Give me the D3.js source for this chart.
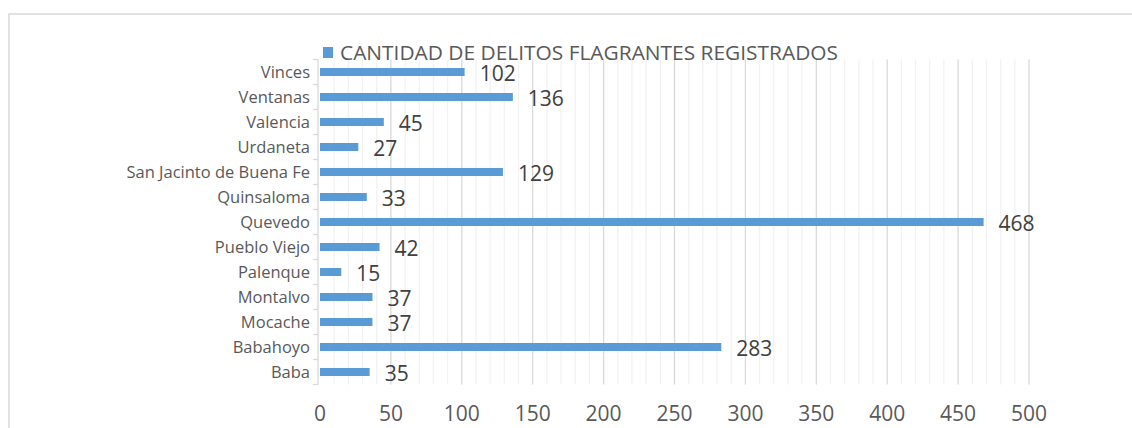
<!DOCTYPE html>
<html>
<head>
<meta charset="utf-8">
<script src="https://cdn.jsdelivr.net/npm/d3@7"></script>
<style>
  body { margin: 0; background: #fff; }
  text { font-family: "Open Sans", "Liberation Sans", sans-serif; }
</style>
</head>
<body>
<div id="chart"></div>
<script>
var categories = ["Vinces", "Ventanas", "Valencia", "Urdaneta", "San Jacinto de Buena Fe",
    "Quinsaloma", "Quevedo", "Pueblo Viejo", "Palenque", "Montalvo", "Mocache", "Babahoyo", "Baba"];
var values = [102, 136, 45, 27, 129, 33, 468, 42, 15, 37, 37, 283, 35];
var xTicks = [0, 50, 100, 150, 200, 250, 300, 350, 400, 450, 500];
var legendLabel = "CANTIDAD DE DELITOS FLAGRANTES REGISTRADOS";

var width = 1132, height = 428;

var svg = d3.select("#chart")
    .append("svg")
    .attr("width", width)
    .attr("height", height);

// outer chart frame (goes past the right and bottom edge)
svg.append("rect")
    .attr("x", 9).attr("y", 14)
    .attr("width", 1200).attr("height", 500)
    .attr("fill", "none")
    .attr("stroke", "#d9d9d9")
    .attr("stroke-width", 1.5);

var x = d3.scaleLinear().domain([0, 500]).range([320, 1029]);
var y = d3.scaleBand().domain(categories).range([59.5, 384.5]).paddingInner(0.68).paddingOuter(0.34);

// minor gridlines
svg.append("g")
    .selectAll("line")
    .data(d3.range(10, 500, 10).filter(function (d) { return d % 50 != 0; }))
    .enter().append("line")
    .attr("x1", function (d) { return x(d); })
    .attr("x2", function (d) { return x(d); })
    .attr("y1", 59.5).attr("y2", 384.5)
    .attr("stroke", "#f2f2f2")
    .attr("stroke-width", 1.3);

// major gridlines
svg.append("g")
    .selectAll("line")
    .data(xTicks.slice(1))
    .enter().append("line")
    .attr("x1", function (d) { return x(d); })
    .attr("x2", function (d) { return x(d); })
    .attr("y1", 59.5).attr("y2", 384.5)
    .attr("stroke", "#d9d9d9")
    .attr("stroke-width", 1.3);

// category axis
var yAxis = svg.append("g")
    .attr("transform", "translate(318,0)");
yAxis.append("line")
    .attr("x1", 0).attr("x2", 0)
    .attr("y1", 59.5).attr("y2", 384.5)
    .attr("stroke", "#d9d9d9").attr("stroke-width", 1.3);
yAxis.selectAll(".tk")
    .data(d3.range(0, categories.length + 1))
    .enter().append("line")
    .attr("class", "tk")
    .attr("x1", -5).attr("x2", 0)
    .attr("y1", function (i) { return 59.5 + i * y.step(); })
    .attr("y2", function (i) { return 59.5 + i * y.step(); })
    .attr("stroke", "#d9d9d9").attr("stroke-width", 1.3);
yAxis.selectAll(".lbl")
    .data(categories)
    .enter().append("text")
    .attr("class", "lbl")
    .attr("x", -8)
    .attr("y", function (d) { return y(d) + y.bandwidth() / 2; })
    .attr("dy", "0.35em")
    .attr("text-anchor", "end")
    .attr("font-size", "16.5px")
    .attr("fill", "#595959")
    .text(function (d) { return d; });

// value axis labels
svg.append("g")
    .selectAll("text")
    .data(xTicks)
    .enter().append("text")
    .attr("x", function (d) { return x(d); })
    .attr("y", 421)
    .attr("text-anchor", "middle")
    .attr("font-size", "21px")
    .attr("fill", "#595959")
    .text(function (d) { return d; });

// bars
svg.append("g")
    .selectAll("rect")
    .data(values)
    .enter().append("rect")
    .attr("x", x(0))
    .attr("y", function (d, i) { return y(categories[i]); })
    .attr("width", function (d) { return x(d) - x(0); })
    .attr("height", y.bandwidth())
    .attr("fill", "#5b9bd5");

// data labels
svg.append("g")
    .selectAll("text")
    .data(values)
    .enter().append("text")
    .attr("x", function (d) { return x(d) + 15; })
    .attr("y", function (d, i) { return y(categories[i]) + y.bandwidth() / 2 + 2; })
    .attr("dy", "0.35em")
    .attr("font-size", "21px")
    .attr("fill", "#404040")
    .text(function (d) { return d; });

// legend
svg.append("rect")
    .attr("x", 323).attr("y", 47)
    .attr("width", 10).attr("height", 11)
    .attr("fill", "#5b9bd5");
svg.append("text")
    .attr("x", 340).attr("y", 60)
    .attr("font-size", "20px")
    .attr("fill", "#595959")
    .attr("textLength", 498)
    .attr("lengthAdjust", "spacingAndGlyphs")
    .text(legendLabel);
</script>
</body>
</html>
